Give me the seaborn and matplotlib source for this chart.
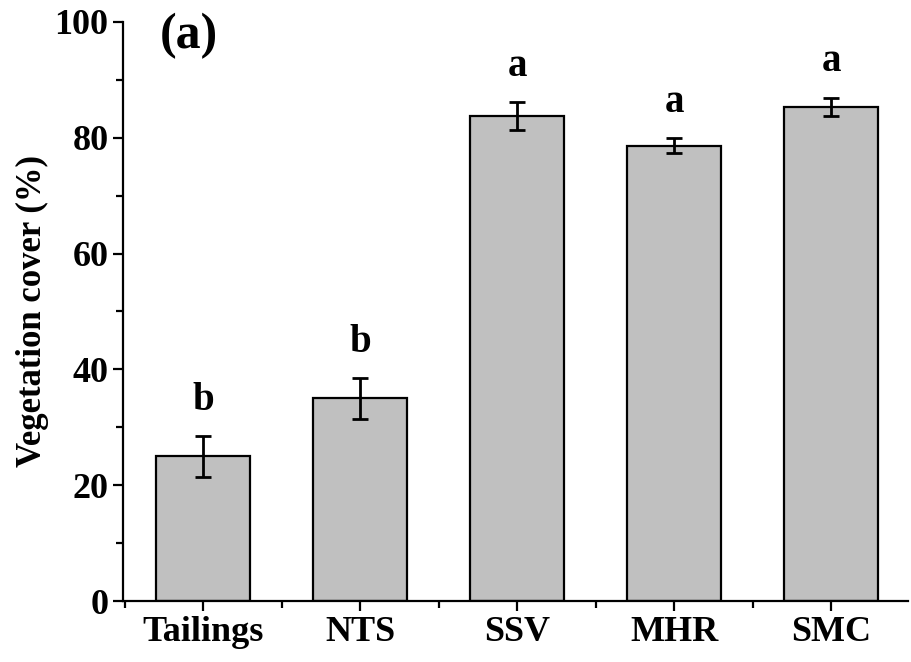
import numpy as np
import pandas as pd
import matplotlib
matplotlib.use("Agg")
import matplotlib.pyplot as plt
from matplotlib.ticker import MultipleLocator
import seaborn as sns

sites = ["Tailings", "NTS", "SSV", "MHR", "SMC"]
cover = [25.0, 35.0, 83.7, 78.6, 85.3]
err = [3.5, 3.5, 2.4, 1.3, 1.6]
letters = ["b", "b", "a", "a", "a"]

df = pd.DataFrame({"site": sites, "cover": cover, "err": err})

sns.set_style("ticks", {"axes.edgecolor": "black", "text.color": "black",
                        "xtick.color": "black", "ytick.color": "black",
                        "axes.labelcolor": "black"})
plt.rcParams["font.family"] = ["Liberation Serif", "DejaVu Serif"]
plt.rcParams["font.weight"] = "bold"

fig = plt.figure(figsize=(9.11, 6.62), dpi=100)
ax = fig.add_axes([0.135, 0.092, 0.862, 0.875])

sns.barplot(data=df, x="site", y="cover", color="#c0c0c0", edgecolor="black",
            linewidth=1.6, width=0.6, errorbar=None, saturation=1, ax=ax)
ax.errorbar(np.arange(len(sites)), df["cover"], yerr=df["err"], fmt="none",
            ecolor="black", elinewidth=2, capsize=6, capthick=2)

for i, (v, e, l) in enumerate(zip(cover, err, letters)):
    ax.text(i, v + e + 3.0, l, ha="center", va="bottom", fontsize=28, fontweight="bold")

ax.set_xlim(-0.51, 4.49)
ax.set_ylim(0, 100)
ax.yaxis.set_major_locator(MultipleLocator(20))
ax.yaxis.set_minor_locator(MultipleLocator(10))
ax.xaxis.set_minor_locator(MultipleLocator(1, offset=0.5))
ax.set_xlabel("")
ax.set_ylabel("Vegetation cover (%)", fontsize=25, fontweight="bold", labelpad=4)
ax.tick_params(axis="both", which="major", direction="out", length=7, width=1.6, labelsize=26)
ax.tick_params(axis="both", which="minor", direction="out", length=5, width=1.6)
for lab in ax.get_xticklabels() + ax.get_yticklabels():
    lab.set_fontweight("bold")

for s in ["top", "right"]:
    ax.spines[s].set_visible(False)
for s in ["left", "bottom"]:
    ax.spines[s].set_linewidth(1.6)

ax.text(0.047, 1.015, "(a)", transform=ax.transAxes, fontsize=36, fontweight="bold",
        ha="left", va="top")

fig.savefig("out.png", dpi=100)
